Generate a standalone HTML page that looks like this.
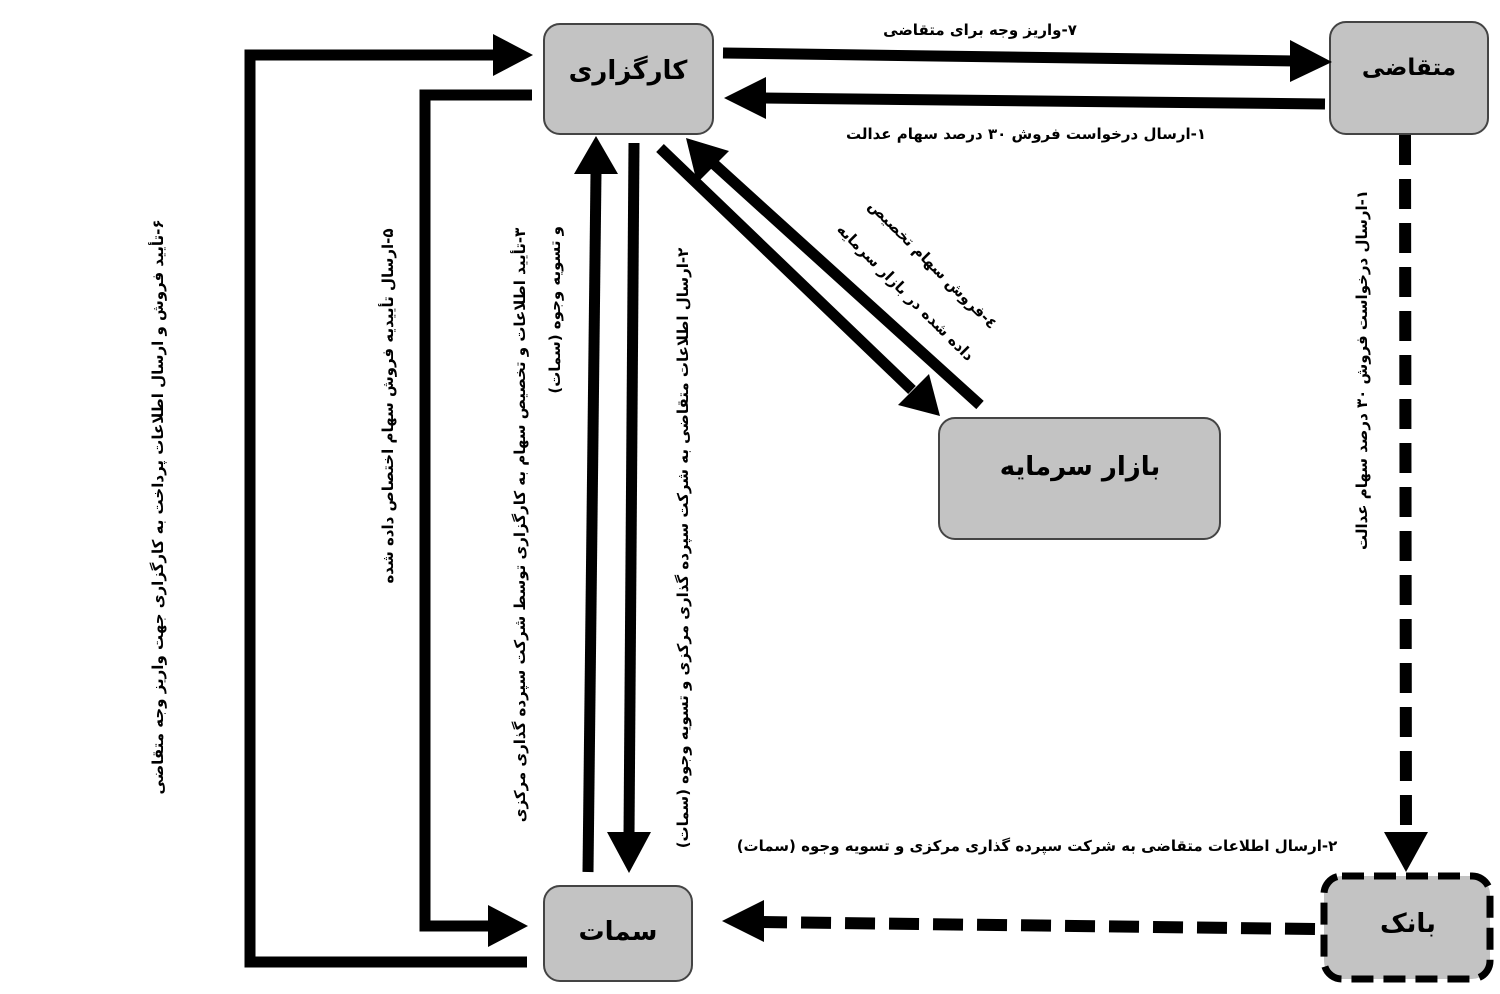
<!DOCTYPE html>
<html><head><meta charset="utf-8"><style>
html,body{margin:0;padding:0;background:#fff;}
svg{display:block}
text{font-family:"DejaVu Sans","Liberation Sans",sans-serif;font-weight:bold;fill:#000}
</style></head><body>
<svg width="1500" height="994" viewBox="0 0 1500 994" xmlns="http://www.w3.org/2000/svg">
<rect x="544" y="24" width="169" height="110" rx="16" fill="#c3c3c3" stroke="#444" stroke-width="2"/>
<rect x="1330" y="22" width="158" height="112" rx="16" fill="#c3c3c3" stroke="#444" stroke-width="2"/>
<rect x="939" y="418" width="281" height="121" rx="16" fill="#c3c3c3" stroke="#444" stroke-width="2"/>
<rect x="544" y="886" width="148" height="95" rx="16" fill="#c3c3c3" stroke="#444" stroke-width="2"/>
<rect x="1324" y="876" width="166" height="103" rx="18" fill="#c3c3c3" stroke="#000" stroke-width="7" stroke-dasharray="22,10"/>
<g direction="rtl">
<text x="628" y="79" font-size="26" text-anchor="middle">کارگزاری</text>
<text x="1409" y="75" font-size="23" text-anchor="middle">متقاضی</text>
<text x="1080" y="475" font-size="26" text-anchor="middle">بازار سرمایه</text>
<text x="618" y="940" font-size="26" text-anchor="middle">سمات</text>
<text x="1408" y="932" font-size="26" text-anchor="middle">بانک</text>
</g>

<g fill="none" stroke="#000" stroke-width="11">
<line x1="723" y1="53" x2="1296" y2="61"/>
<line x1="1325" y1="104" x2="760" y2="98"/>
<polyline points="527,962 250,962 250,55 500,55"/>
<polyline points="532,95 425,95 425,926 494,926"/>
<line x1="588" y1="872" x2="596" y2="172"/>
<line x1="634" y1="143" x2="629" y2="836"/>
<line x1="660" y1="148" x2="912" y2="390"/>
<line x1="980" y1="405" x2="714" y2="164"/>
<line x1="1405" y1="135" x2="1406" y2="836" stroke-width="12" stroke-dasharray="30,14"/>
<line x1="1315" y1="929" x2="758" y2="922" stroke-width="12" stroke-dasharray="30,14"/>
</g>
<g fill="#000">
<polygon points="1290,40 1332,62 1290,82"/>
<polygon points="766,77 724,98 766,119"/>
<polygon points="493,34 533,55 493,76"/>
<polygon points="488,905 528,926 488,947"/>
<polygon points="574,174 596,136 618,174"/>
<polygon points="607,832 629,873 651,832"/>
<polygon points="1384,832 1406,872 1428,832"/>
<polygon points="764,900 722,921 764,942"/>
<polygon points="898,405 940,416 929,374"/>
<polygon points="697,183 686,138 729,151"/>
</g>

<g font-size="15" direction="rtl">
<text x="980" y="35" text-anchor="middle">۷-واریز وجه برای متقاضی</text>
<text x="1026" y="139" text-anchor="middle">۱-ارسال درخواست فروش ۳۰ درصد سهام عدالت</text>
<text x="1037" y="851" text-anchor="middle">۲-ارسال اطلاعات متقاضی به شرکت سپرده گذاری مرکزی و تسویه وجوه (سمات)</text>
<text transform="translate(1367,370) rotate(-90)" text-anchor="middle">۱-ارسال درخواست فروش ۳۰ درصد سهام عدالت</text>
<text transform="translate(163,507) rotate(-90)" text-anchor="middle">۶-تأیید فروش و ارسال اطلاعات پرداخت به کارگزاری جهت واریز وجه متقاضی</text>
<text transform="translate(393,406) rotate(-90)" text-anchor="middle">۵-ارسال تأییدیه فروش سهام اختصاص داده شده</text>
<text transform="translate(525,525) rotate(-90)" text-anchor="middle">۳-تأیید اطلاعات و تخصیص سهام به کارگزاری توسط شرکت سپرده گذاری مرکزی</text>
<text transform="translate(560,226) rotate(-90)" text-anchor="start">و تسویه وجوه (سمات)</text>
<text transform="translate(688,548) rotate(-90)" text-anchor="middle">۲-ارسال اطلاعات متقاضی به شرکت سپرده گذاری مرکزی و تسویه وجوه (سمات)</text>
<text transform="translate(929,268) rotate(45)" text-anchor="middle">٤-فروش سهام تخصیص</text>
<text transform="translate(902,296) rotate(45)" text-anchor="middle">داده شده در بازار سرمایه</text>
</g>
</svg>
</body></html>
